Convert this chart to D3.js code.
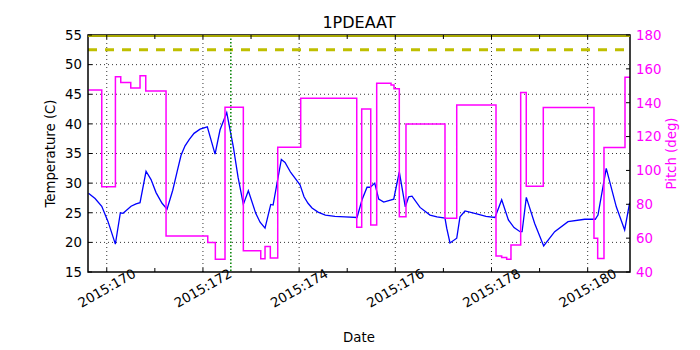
<!DOCTYPE html>
<html>
<head>
<meta charset="utf-8">
<script src="https://cdn.jsdelivr.net/npm/d3@7"></script>
<style>
  body { margin: 0; background: #fff; }
  svg { display: block; font-family: "DejaVu Sans", sans-serif; }
</style>
</head>
<body>
<svg width="700" height="350"></svg>
<script>
// temperature samples (day of year 2015, deg C)
const tempDays = [169.62, 169.757, 169.896, 170.027, 170.179, 170.283, 170.339, 170.505, 170.609, 170.692,
  170.817, 170.921, 171.025, 171.150, 171.254, 171.372, 171.462, 171.545, 171.628, 171.717,
  171.815, 171.940, 172.091, 172.252, 172.356, 172.495, 172.632, 172.730, 172.840, 172.944,
  173.098, 173.188, 173.291, 173.354, 173.410, 173.459, 173.541, 173.630, 173.707, 173.825,
  174.019, 174.102, 174.185, 174.268, 174.393, 174.545, 174.746, 174.954, 175.204, 175.308,
  175.412, 175.480, 175.572, 175.655, 175.759, 175.967, 176.083, 176.208, 176.279, 176.347,
  176.514, 176.722, 176.867, 177.033, 177.069, 177.137, 177.277, 177.345, 177.449, 177.692,
  177.886, 178.073, 178.212, 178.351, 178.469, 178.594, 178.636, 178.724, 178.898, 179.085,
  179.314, 179.591, 179.938, 180.158, 180.214, 180.386, 180.595, 180.769, 180.873];
const tempVals = [28.3, 27.4, 26.1, 23.5, 19.7, 25.0, 24.9, 26.1, 26.5, 26.7,
  32.0, 30.6, 28.4, 26.6, 25.6, 28.8, 31.9, 34.7, 36.3, 37.4,
  38.4, 39.1, 39.5, 34.9, 39.0, 41.9, 36.1, 31.0, 26.4, 28.7,
  24.9, 23.4, 22.4, 24.5, 26.4, 26.3, 30.0, 34.0, 33.5, 31.8,
  29.7, 27.7, 26.6, 25.8, 25.1, 24.6, 24.4, 24.3, 24.2, 27.2,
  29.3, 29.3, 30.0, 27.3, 26.8, 27.3, 31.9, 26.0, 27.7, 27.8,
  25.9, 24.6, 24.3, 24.1, 22.4, 19.9, 20.7, 24.3, 25.3, 24.8,
  24.4, 24.2, 27.2, 23.8, 22.5, 21.8, 21.8, 27.6, 23.2, 19.4,
  21.8, 23.5, 23.9, 23.9, 24.6, 32.5, 26.0, 22.1, 26.7];

// pitch: time each attitude starts and its value (deg)
const pitchDays = [169.62, 169.896, 170.18, 170.291, 170.499, 170.692, 170.811, 171.233, 172.100, 172.258,
  172.459, 172.840, 173.202, 173.291, 173.401, 173.555, 174.033, 175.198, 175.301, 175.489,
  175.613, 175.911, 175.973, 176.083, 176.222, 177.033, 177.277, 178.094, 178.212, 178.316,
  178.405, 178.607, 178.723, 179.077, 180.131, 180.208, 180.339, 180.776];
const pitchVals = [147.5, 90.4, 155.4, 152, 148.7, 156, 146.9, 61.3, 57.5, 47.5,
  137.3, 52.6, 47.9, 55, 48.3, 113.7, 142.6, 66.4, 136.3, 67.8,
  151.5, 150.5, 148.3, 72.7, 127.4, 71.7, 138.7, 49.5, 48.5, 47.5,
  56, 146, 90.6, 137.1, 60, 48, 113.5, 155];

const planLimit = 55;
const cautionLimit = 52.5;
const markerDay = 172.58;
const xDomain = [169.61, 180.88];
const dayTicks = d3.range(170, 181);
const labelDays = [170, 172, 174, 176, 178, 180];
const tempTicks = d3.range(15, 56, 5);
const pitchTicks = d3.range(40, 181, 20);

const svg = d3.select("svg");
const margin = { top: 35, right: 70, bottom: 78, left: 88 };
const w = 700 - margin.left - margin.right;
const h = 350 - margin.top - margin.bottom;
const g = svg.append("g").attr("transform", `translate(${margin.left},${margin.top})`);

const x = d3.scaleLinear().domain(xDomain).range([0, w]);
const yT = d3.scaleLinear().domain([15, 55]).range([h, 0]);
const yP = d3.scaleLinear().domain([40, 180]).range([h, 0]);

g.append("clipPath").attr("id", "clip")
  .append("rect").attr("width", w).attr("height", h);

// grid
g.selectAll(".hgrid").data(tempTicks.slice(1, -1)).join("line")
  .attr("x1", 0).attr("x2", w)
  .attr("y1", d => yT(d)).attr("y2", d => yT(d))
  .attr("stroke", "#000").attr("stroke-width", 0.8).attr("stroke-dasharray", "1,3");
g.selectAll(".vgrid").data(labelDays).join("line")
  .attr("y1", 0).attr("y2", h)
  .attr("x1", d => x(d)).attr("x2", d => x(d))
  .attr("stroke", "#000").attr("stroke-width", 0.8).attr("stroke-dasharray", "1,3");

const plot = g.append("g").attr("clip-path", "url(#clip)");

// temperature
const tLine = d3.line().x((d, i) => x(tempDays[i])).y(d => yT(d));
plot.append("path").attr("d", tLine(tempVals))
  .attr("fill", "none").attr("stroke", "#0000ff").attr("stroke-width", 1.3);

// caution limit and marker
plot.append("line").attr("x1", 0).attr("x2", w)
  .attr("y1", yT(cautionLimit)).attr("y2", yT(cautionLimit))
  .attr("stroke", "#bfbf00").attr("stroke-width", 3).attr("stroke-dasharray", "9,8");

plot.append("line").attr("x1", x(markerDay)).attr("x2", x(markerDay))
  .attr("y1", 0).attr("y2", h)
  .attr("stroke", "#008000").attr("stroke-width", 1.5).attr("stroke-dasharray", "1.5,2");

// pitch
const pData = pitchDays.map((d, i) => [d, pitchVals[i]]);
pData.push([xDomain[1] + 0.05, pitchVals[pitchVals.length - 1]]);
const pLine = d3.line().curve(d3.curveStepAfter).x(d => x(d[0])).y(d => yP(d[1]));
plot.append("path").attr("d", pLine(pData))
  .attr("fill", "none").attr("stroke", "#ff00ff").attr("stroke-width", 1.5);

// frame
g.append("rect").attr("width", w).attr("height", h)
  .attr("fill", "none").attr("stroke", "#000").attr("stroke-width", 1.5);

// planning limit sits on the top edge
g.append("line").attr("x1", 0).attr("x2", w)
  .attr("y1", yT(planLimit) + 1).attr("y2", yT(planLimit) + 1)
  .attr("stroke", "#a8a800").attr("stroke-width", 2);

// ticks, pointing in
const tk = 4;
g.selectAll(".lt").data(tempTicks).join("line")
  .attr("x1", 0).attr("x2", tk).attr("y1", d => yT(d)).attr("y2", d => yT(d)).attr("stroke", "#000");
g.selectAll(".rt").data(pitchTicks).join("line")
  .attr("x1", w).attr("x2", w - tk).attr("y1", d => yP(d)).attr("y2", d => yP(d)).attr("stroke", "#000");
g.selectAll(".bt").data(dayTicks).join("line")
  .attr("y1", h).attr("y2", h - tk).attr("x1", d => x(d)).attr("x2", d => x(d)).attr("stroke", "#000");
g.selectAll(".tt").data(dayTicks).join("line")
  .attr("y1", 0).attr("y2", tk).attr("x1", d => x(d)).attr("x2", d => x(d)).attr("stroke", "#000");

// tick labels
g.selectAll(".ll").data(tempTicks).join("text")
  .attr("x", -6).attr("y", d => yT(d)).attr("dy", "0.36em")
  .attr("text-anchor", "end").attr("font-size", 13.3).text(d => d);
g.selectAll(".rl").data(pitchTicks).join("text")
  .attr("x", w + 6).attr("y", d => yP(d)).attr("dy", "0.36em")
  .attr("fill", "#ff00ff").attr("font-size", 13.3).text(d => d);
g.selectAll(".bl").data(labelDays).join("text")
  .attr("transform", d => `translate(${x(d)},${h + 16}) rotate(-30)`)
  .attr("dy", "0.36em").attr("text-anchor", "middle").attr("font-size", 13.3)
  .text(d => `2015:${d}`);

// titles
svg.append("text").attr("x", margin.left + w / 2).attr("y", 28)
  .attr("text-anchor", "middle").attr("font-size", 16).text("1PDEAAT");
svg.append("text").attr("x", margin.left + w / 2).attr("y", 342)
  .attr("text-anchor", "middle").attr("font-size", 13.3).text("Date");
svg.append("text").attr("transform", `translate(55,${margin.top + h / 2}) rotate(-90)`)
  .attr("text-anchor", "middle").attr("font-size", 13.3).text("Temperature (C)");
svg.append("text").attr("transform", `translate(676,${margin.top + h / 2}) rotate(-90)`)
  .attr("text-anchor", "middle").attr("font-size", 13.3).attr("fill", "#ff00ff").text("Pitch (deg)");
</script>
</body>
</html>
